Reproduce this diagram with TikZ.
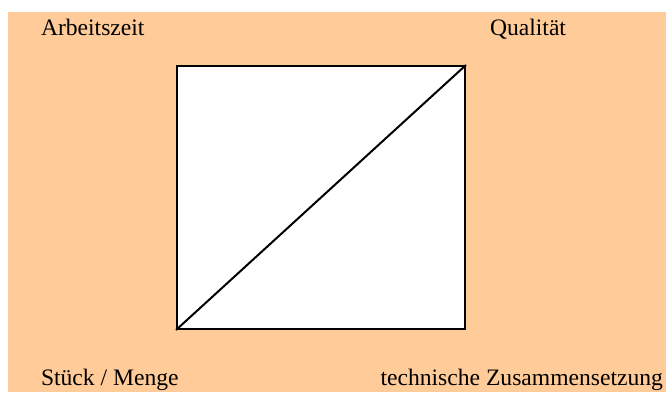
\documentclass[tikz,border=0pt]{standalone}
\usepackage{fontspec}
\setmainfont{Liberation Serif}
\definecolor{pfirsich}{RGB}{255,204,153}

\begin{document}
\begin{tikzpicture}[x=1pt,y=-1pt,line width=2pt,
  beschriftung/.style={inner sep=0pt,font=\fontsize{23.6}{28}\selectfont}]
\useasboundingbox (0,0) rectangle (666,392);
\fill[pfirsich] (8,12) rectangle (666,392);
\node[draw=black,fill=white,inner sep=0pt,minimum width=288pt,minimum height=263pt,anchor=north west] (feld) at (176,65) {};
\draw (feld.south west) -- (feld.north east);
\node[beschriftung,anchor=base west] (arbeitszeit) at (40,35) {Arbeitszeit};
\node[beschriftung,anchor=base west] (qualitaet) at (489,35) {Qualität};
\node[beschriftung,anchor=base west] (stueck) at (40,385.5) {Stück / Menge};
\node[beschriftung,anchor=base east] (technik) at (664,385.5) {technische Zusammensetzung};
\end{tikzpicture}
\end{document}
